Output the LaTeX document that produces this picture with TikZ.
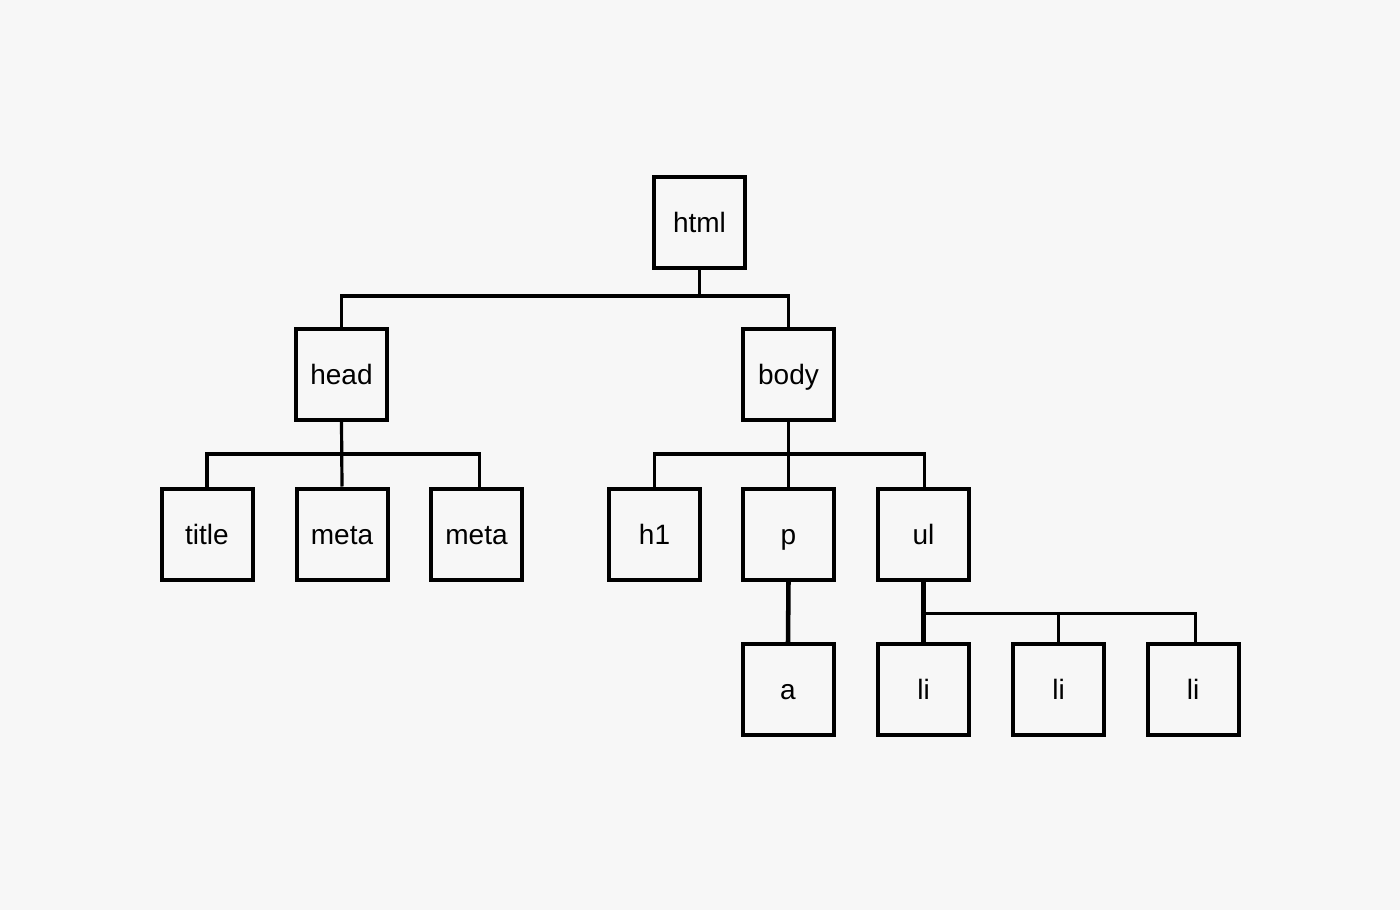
\documentclass[tikz,border=0pt]{standalone}
\usepackage{fontspec}
\setmainfont{Liberation Sans}
\definecolor{bg}{HTML}{F7F7F7}
\begin{document}
\begin{tikzpicture}[x=0.75pt,y=-0.75pt,
  tag/.style={draw=black,line width=3pt,minimum width=68.25pt,minimum height=68.25pt,inner sep=0pt,text height=15pt,text depth=0pt,font=\fontsize{21}{24}\selectfont},
  link/.style={draw=black,line width=2.4pt},
  stem/.style={draw=black,line width=3.4pt}]
\fill[bg] (0,0) rectangle (1400,910);
\useasboundingbox (0,0) rectangle (1400,910);
\node[tag] (html) at (699.5,222.5) {html};
\node[tag] (head) at (341.5,374.5) {head};
\node[tag] (body) at (788.5,374.5) {body};
\node[tag] (title) at (207,534) {title};
\node[tag] (meta1) at (342,534) {meta};
\node[tag] (meta2) at (476.5,534) {meta};
\node[tag] (h1) at (654.5,534) {h1};
\node[tag] (p) at (788.5,534) {p};
\node[tag] (ul) at (923.5,534) {ul};
\node[tag] (a) at (788,689.5) {a};
\node[tag] (li1) at (923.5,689.5) {li};
\node[tag] (li2) at (1058.5,689.5) {li};
\node[tag] (li3) at (1193,689.5) {li};
% html
\draw[link] (html.south) -- ++(0,26) coordinate (j1);
\draw[link] (head.north) |- (j1) -| (body.north);
% head
\draw[link] (head.south) -- (meta1.north);
\draw[link] (title.north) |- ([yshift=-24pt]head.south) -| ([xshift=2pt]meta2.north);
% body
\draw[link] (body.south) -- (p.north);
\draw[link] (h1.north) |- ([yshift=-24pt]body.south) -| ([xshift=1pt]ul.north);
% p
\draw[stem] (p.south) -- (a.north);
% ul
\draw[stem] (ul.south) -- (li1.north);
\draw[link] ([yshift=-24pt]ul.south) -| (li2.north);
\draw[link] ([yshift=-24pt]ul.south) -| ([xshift=2pt]li3.north);
\end{tikzpicture}
\end{document}
